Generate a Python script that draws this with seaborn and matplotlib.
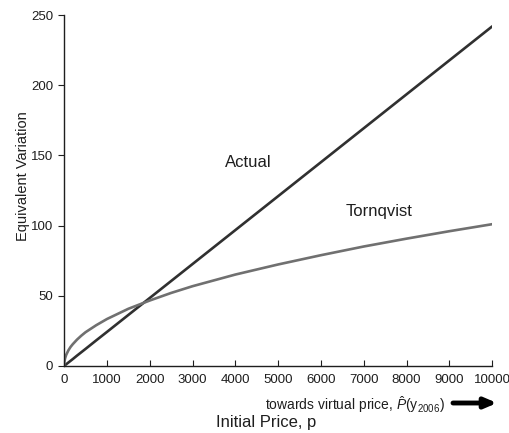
import matplotlib
matplotlib.use("Agg")
import matplotlib.pyplot as plt
import seaborn as sns
import pandas as pd

# Initial price grid and the two equivalent-variation series
price = [0, 5, 10, 25, 50, 100, 150, 200, 300, 400, 500, 750, 1000, 1500, 2000, 2500,
         3000, 4000, 5000, 6000, 7000, 8000, 9000, 10000]
actual_ev = [0, 0.1, 0.2, 0.6, 1.2, 2.4, 3.6, 4.8, 7.3, 9.7, 12.1, 18.2, 24.2, 36.3,
             48.4, 60.5, 72.6, 96.8, 121.0, 145.2, 169.4, 193.6, 217.8, 242.0]
tornqvist_ev = [0, 2.6, 3.7, 5.7, 8.0, 11.1, 13.5, 15.4, 18.7, 21.5, 24.0, 29.0, 33.4,
                40.7, 46.6, 52.0, 56.8, 65.1, 72.3, 78.9, 85.1, 90.7, 96.0, 101.0]

x_ticks = [0, 1000, 2000, 3000, 4000, 5000, 6000, 7000, 8000, 9000, 10000]
y_ticks = [0, 50, 100, 150, 200, 250]

df = pd.concat([
    pd.DataFrame({"p": price, "ev": actual_ev, "series": "Actual"}),
    pd.DataFrame({"p": price, "ev": tornqvist_ev, "series": "Tornqvist"}),
])

sns.set_style("ticks")
plt.rcParams["font.family"] = ["Liberation Sans", "DejaVu Sans"]
plt.rcParams["mathtext.fontset"] = "custom"
plt.rcParams["mathtext.rm"] = "Liberation Sans"
plt.rcParams["mathtext.it"] = "Liberation Sans:italic"

ink = "#1e1e1e"

fig = plt.figure(figsize=(5.09, 4.33), dpi=100)
ax = fig.add_axes([0.126, 0.155, 0.841, 0.81])

sns.lineplot(data=df, x="p", y="ev", hue="series",
             palette={"Actual": "#303030", "Tornqvist": "#707070"},
             linewidth=1.9, legend=False, ax=ax)

ax.set_xlim(0, 10000)
ax.set_ylim(0, 250)
ax.set_xticks(x_ticks)
ax.set_yticks(y_ticks)
ax.tick_params(axis="x", direction="in", length=4, labelsize=9.5, pad=6,
               color=ink, labelcolor=ink)
ax.tick_params(axis="y", direction="out", length=4, labelsize=9.5, pad=4,
               color=ink, labelcolor=ink)
for s in ("top", "right"):
    ax.spines[s].set_visible(False)
for s in ("left", "bottom"):
    ax.spines[s].set_color(ink)
    ax.spines[s].set_linewidth(1.0)

ax.set_xlabel("")
ax.set_ylabel("Equivalent Variation", fontsize=10.5, color=ink)
ax.yaxis.set_label_coords(-0.079, 0.541)

ax.text(4300, 145, "Actual", fontsize=12, ha="center", va="center", color=ink)
ax.text(7360, 110, "Tornqvist", fontsize=12, ha="center", va="center", color=ink)

fig.text(265 / 509, 1 - 405 / 433,
         r"towards virtual price, $\hat{P}$(y$\mathregular{_{2006}}$)",
         fontsize=10, ha="left", va="center", color=ink)
fig.text(266 / 509, 1 - 422 / 433, "Initial Price, p",
         fontsize=12, ha="center", va="center", color=ink)
ax.annotate("", xy=(497 / 509, 1 - 403 / 433), xytext=(453 / 509, 1 - 403 / 433),
            xycoords="figure fraction", textcoords="figure fraction",
            arrowprops=dict(arrowstyle="-|>,head_length=0.7,head_width=0.3",
                            lw=3.5, color="black", shrinkA=0, shrinkB=0))

fig.savefig("out.png", dpi=100)
